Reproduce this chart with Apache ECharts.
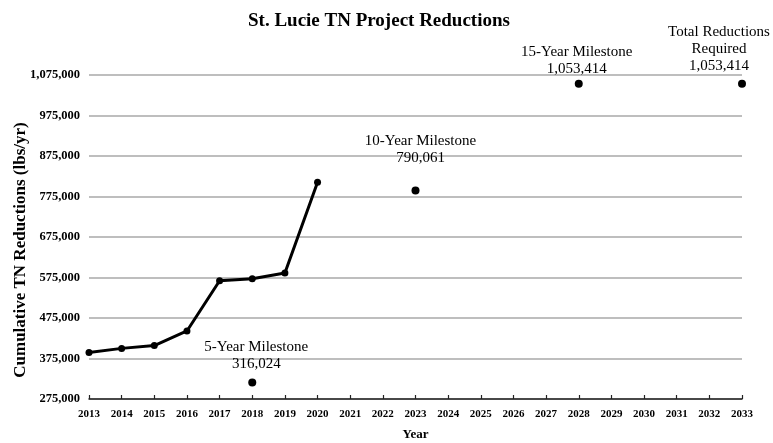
<!DOCTYPE html>
<html><head><meta charset="utf-8">
<script src="https://cdn.jsdelivr.net/npm/echarts@6/dist/echarts.min.js"></script>
<style>html,body{margin:0;padding:0;background:#fff}#c{width:773px;height:443px}</style>
</head><body><div id="c"></div>
<script>
const years = ['2013','2014','2015','2016','2017','2018','2019','2020','2021','2022','2023','2024','2025','2026','2027','2028','2029','2030','2031','2032','2033'];
const actualYears = ['2013','2014','2015','2016','2017','2018','2019','2020'];
const actualValues = [390000, 400000, 407000, 443000, 567000, 572000, 586000, 810000];
const milestoneYears = ['2018','2023','2028','2033'];
const milestoneValues = [316024, 790061, 1053414, 1053414];
const milestoneNames = ['5-Year Milestone', '10-Year Milestone', '15-Year Milestone', 'Total Reductions\nRequired'];
const yMin = 275000, yMax = 1075000, yStep = 100000;

const serif = '"Liberation Serif", "Times New Roman", serif';
const fmt = v => v.toLocaleString('en-US');
const labelOffsets = [[4, -5.5], [5, -20], [-2, -2.5], [-23, -5]];

const chart = echarts.init(document.getElementById('c'));
chart.setOption({
  animation: false,
  backgroundColor: '#fff',
  title: {
    text: 'St. Lucie TN Project Reductions',
    left: 243, top: 7,
    textStyle: { fontFamily: serif, fontSize: 19, fontWeight: 'bold', color: '#000' }
  },
  graphic: [{
    type: 'text', x: 21, y: 250, rotation: Math.PI / 2,
    style: {
      text: 'Cumulative TN Reductions (lbs/yr)',
      font: 'bold 17px ' + serif, fill: '#000',
      textAlign: 'center', textVerticalAlign: 'middle'
    }
  }],
  grid: { left: 89, right: 31, top: 75, bottom: 44, containLabel: false, outerBoundsMode: 'none' },
  xAxis: {
    type: 'category', data: years, boundaryGap: false,
    name: 'Year', nameLocation: 'middle', nameGap: 29,
    nameTextStyle: { fontFamily: serif, fontSize: 13, fontWeight: 'bold', color: '#000' },
    axisLine: { lineStyle: { color: '#222', width: 1.5 } },
    axisTick: { inside: true, length: 4, lineStyle: { color: '#222', width: 1.2 } },
    axisLabel: { fontFamily: serif, fontSize: 11, fontWeight: 'bold', color: '#000', margin: 10, interval: 0 },
    splitLine: { show: false }
  },
  yAxis: {
    type: 'value', min: yMin, max: yMax, interval: yStep,
    axisLine: { show: false }, axisTick: { show: false },
    axisLabel: { fontFamily: serif, fontSize: 12.5, fontWeight: 'bold', color: '#000', margin: 9, formatter: v => fmt(v) },
    splitLine: { lineStyle: { color: '#a8a8a8', width: 1.5 } }
  },
  series: [
    {
      type: 'line',
      data: actualYears.map((y, i) => [y, actualValues[i]]),
      lineStyle: { color: '#000', width: 3 },
      itemStyle: { color: '#000', opacity: 1 },
      symbol: 'circle', symbolSize: 7,
      z: 3
    },
    {
      type: 'scatter',
      data: milestoneYears.map((y, i) => ({
        value: [y, milestoneValues[i]],
        label: {
          show: true, position: 'top', distance: 0, offset: labelOffsets[i],
          formatter: milestoneNames[i] + '\n' + fmt(milestoneValues[i]),
          fontFamily: serif, fontSize: 15, lineHeight: 17, color: '#000', align: 'center'
        }
      })),
      symbol: 'circle', symbolSize: 8,
      itemStyle: { color: '#000', opacity: 1 },
      z: 4
    }
  ]
});
</script>
</body></html>
